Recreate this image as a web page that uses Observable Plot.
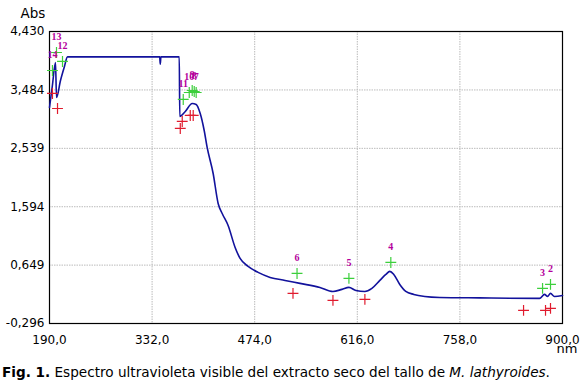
<!DOCTYPE html>
<html><head><meta charset="utf-8">
<script src="https://cdn.jsdelivr.net/npm/d3@7"></script>
<script src="https://cdn.jsdelivr.net/npm/@observablehq/plot@0.6"></script>
<style>
body{margin:0;background:#fff;}
#wrap{width:580px;position:relative;}
#cap{font-family:"DejaVu Sans",Verdana,sans-serif;font-size:13.6px;line-height:20px;padding-left:2px;color:#000;white-space:nowrap;}
</style></head>
<body><div id="wrap"><div id="chart"></div><div id="cap"><b>Fig. 1.</b> Espectro ultravioleta visible del extracto seco del tallo de <i>M. lathyroides</i>.</div></div>
<script>
const specNm  = [190,194,198.3,199.7,205.2,210.7,214.9,340.6,342.5,343.3,344.2,346.1,369.6,370.3,377.9,387.5,393,398.6,404.1,408.2,416.5,423.4,429,437.2,446.9,453.8,464.9,478.7,495.3,516,536.7,564.3,582.3,594.7,604.4,614.1,626.5,636.2,647.2,655.5,661,666.5,674.8,683.1,694.2,709.4,730.1,785.3,868.2,875.1,879.3,883.4,888.9,900];
const specAbs = [3.20,3.556,3.928,3.362,3.637,3.864,4.02,4.02,4.02,3.90,4.02,4.02,4.02,3.055,3.136,3.265,3.249,3.103,2.828,2.553,2.132,1.647,1.485,1.291,0.935,0.757,0.628,0.531,0.450,0.401,0.353,0.288,0.223,0.256,0.288,0.239,0.223,0.272,0.401,0.498,0.547,0.498,0.336,0.223,0.175,0.142,0.126,0.118,0.110,0.175,0.142,0.191,0.142,0.158];
const peakLabel = ["14","13","12","11","10","9","8","7","6","5","4","3","2"];
const peakNm  = [194.1,199.7,208,375.1,383.4,387.5,390.3,393,532.6,604.4,662.4,872.4,883.4];
const peakAbs = [3.799,4.090,3.945,3.330,3.443,3.475,3.459,3.443,0.514,0.434,0.692,0.272,0.337];
const valleyNm  = [194.1,201.1,371,373.7,384.8,388.9,527,582.3,626.5,846.1,876.5,883.4];
const valleyAbs = [3.427,3.184,2.861,2.974,3.071,3.071,0.191,0.078,0.094,-0.084,-0.084,-0.052];
const xTicks = [190,332,474,616,758,900];
const yTicks = [-0.296,0.649,1.594,2.539,3.484,4.430];

const spectrum = specNm.map((x,i)=>({x,y:specAbs[i]}));
const peaks = peakNm.map((x,i)=>({x,y:peakAbs[i],label:peakLabel[i]}));
const valleys = valleyNm.map((x,i)=>({x,y:valleyAbs[i]}));
const comma = (d,n)=>d.toFixed(n).replace(".",",");

const chart = Plot.plot({
  width:580, height:362,
  marginTop:31, marginLeft:49, marginRight:18, marginBottom:39,
  style:{fontFamily:"DejaVu Sans, Verdana, sans-serif", fontSize:"12px", color:"#000", background:"#fff"},
  x:{domain:[190,900], ticks:xTicks, tickFormat:d=>comma(d,1), tickSize:0, tickPadding:12, label:null},
  y:{domain:[-0.296,4.430], ticks:yTicks, tickFormat:d=>comma(d,3), tickSize:0, tickPadding:5, label:null},
  marks:[
    Plot.gridX(xTicks.slice(1,-1),{stroke:"#bbb",strokeOpacity:1,strokeDasharray:"1.5,1"}),
    Plot.gridY(yTicks.slice(1,-1),{stroke:"#bbb",strokeOpacity:1,strokeDasharray:"1.5,1"}),
    Plot.frame({stroke:"#000",strokeWidth:1.2}),
    Plot.line(spectrum,{x:"x",y:"y",stroke:"#12129c",strokeWidth:1.6,curve:"monotone-x"}),
    Plot.dot(valleys,{x:"x",y:"y",symbol:"plus",r:3.6,stroke:"#e01b2e",strokeWidth:1.2}),
    Plot.dot(peaks,{x:"x",y:"y",symbol:"plus",r:3.6,stroke:"#3ccf3c",strokeWidth:1.2}),
    Plot.text(peaks,{x:"x",y:"y",text:"label",dy:-16,fill:"#b4009c",fontFamily:"Liberation Serif, serif",fontWeight:"bold",fontSize:10}),
    Plot.text(["Abs"],{frameAnchor:"top-left",dx:-29,dy:-23,fill:"#000",fontSize:13.5}),
    Plot.text(["nm"],{frameAnchor:"bottom-right",textAnchor:"end",dx:15,dy:29,fill:"#000",fontSize:13}),
  ]
});
document.getElementById("chart").appendChild(chart);
</script></body></html>
